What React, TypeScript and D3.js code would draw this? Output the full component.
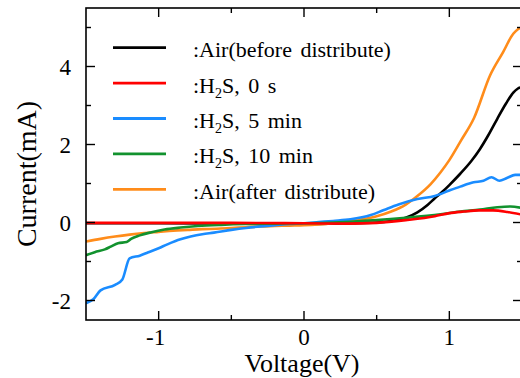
import React from "react";
import * as d3 from "d3";

// ---- data ----
const blackV = [-1.5, -1, -0.5, 0, 0.3, 0.5, 0.6, 0.7, 0.78, 0.85, 0.9, 0.95, 1.0, 1.075, 1.15, 1.21, 1.27, 1.33, 1.39, 1.44, 1.47, 1.5];
const blackI = [-0.02, -0.02, -0.03, -0.04, -0.02, 0.0, 0.04, 0.12, 0.26, 0.45, 0.62, 0.78, 0.96, 1.25, 1.57, 1.88, 2.25, 2.66, 3.05, 3.33, 3.43, 3.47];

const redV = [-1.5, -1.0, -0.5, 0, 0.3, 0.5, 0.7, 0.9, 1.0, 1.1, 1.2, 1.3, 1.4, 1.5];
const redI = [-0.01, -0.01, -0.01, -0.02, -0.03, -0.01, 0.06, 0.16, 0.24, 0.28, 0.31, 0.31, 0.27, 0.2];

const blueV = [-1.5, -1.45, -1.4, -1.3, -1.25, -1.2, -1.13, -1.075, -1.0, -0.94, -0.85, -0.78, -0.7, -0.62, -0.5, -0.4, -0.3, -0.2, -0.1, 0, 0.1, 0.2, 0.32, 0.46, 0.55, 0.65, 0.78, 0.9, 1.0, 1.075, 1.167, 1.235, 1.29, 1.345, 1.396, 1.453, 1.5];
const blueI = [-2.07, -1.97, -1.74, -1.6, -1.46, -0.92, -0.85, -0.77, -0.66, -0.56, -0.43, -0.36, -0.3, -0.26, -0.19, -0.14, -0.1, -0.07, -0.04, -0.02, 0.01, 0.04, 0.08, 0.19, 0.32, 0.46, 0.6, 0.68, 0.82, 0.92, 1.03, 1.07, 1.16, 1.07, 1.14, 1.22, 1.22];

const greenV = [-1.5, -1.44, -1.37, -1.33, -1.28, -1.22, -1.19, -1.13, -1.05, -0.96, -0.85, -0.73, -0.57, -0.4, -0.2, 0, 0.2, 0.32, 0.5, 0.7, 0.94, 1.075, 1.21, 1.33, 1.42, 1.5];
const greenI = [-0.84, -0.76, -0.69, -0.62, -0.53, -0.5, -0.42, -0.33, -0.25, -0.18, -0.13, -0.09, -0.06, -0.04, -0.03, -0.02, 0.0, 0.02, 0.06, 0.12, 0.21, 0.28, 0.33, 0.39, 0.41, 0.37];

const orangeV = [-1.5, -1.4, -1.3, -1.2, -1.1, -1.0, -0.9, -0.8, -0.7, -0.6, -0.5, -0.4, -0.3, -0.2, -0.1, 0, 0.1, 0.2, 0.3, 0.4, 0.5, 0.6, 0.7, 0.78, 0.87, 0.94, 1.0, 1.08, 1.17, 1.28, 1.37, 1.44, 1.47, 1.5];
const orangeI = [-0.49, -0.42, -0.36, -0.31, -0.27, -0.24, -0.21, -0.19, -0.17, -0.16, -0.14, -0.12, -0.1, -0.09, -0.08, -0.07, -0.05, -0.02, 0.02, 0.08, 0.16, 0.28, 0.46, 0.68, 0.98, 1.29, 1.6, 2.1, 2.68, 3.77, 4.37, 4.84, 4.95, 5.0];

const xMajorTicks = [-1, 0, 1];
const xMinorTicks = [-0.5, 0.5];
const yMajorTicks = [-2, 0, 2, 4];
const yMinorTicks = [-1, 1, 3, 5];

const COLORS = {
  black: "#000000",
  red: "#ff0000",
  blue: "#1a8cff",
  green: "#12922e",
  orange: "#ff8c1a",
};

const FONT = "'Liberation Serif', 'Times New Roman', Times, serif";
const txt = { fontFamily: FONT } as React.CSSProperties;

export default function App() {
  const left = 86, right = 522, top = 8, bottom = 320;
  const x = d3.scaleLinear().domain([-1.5, 1.5]).range([left, right]);
  const y = d3.scaleLinear().domain([-2.5, 5.5]).range([bottom, top]);
  const line = d3
    .line<[number, number]>()
    .x((d) => x(d[0]))
    .y((d) => y(d[1]))
    .curve(d3.curveMonotoneX);

  const zip = (a: number[], b: number[]) => a.map((v, i) => [v, b[i]] as [number, number]);

  const series = [
    { key: "black", pts: zip(blackV, blackI), color: COLORS.black },
    { key: "orange", pts: zip(orangeV, orangeI), color: COLORS.orange },
    { key: "blue", pts: zip(blueV, blueI), color: COLORS.blue },
    { key: "green", pts: zip(greenV, greenI), color: COLORS.green },
    { key: "red", pts: zip(redV, redI), color: COLORS.red },
  ];

  const sub = (s: string) => (
    <tspan dy={5} fontSize={14} style={txt}>{s}</tspan>
  );
  const legend: { color: string; label: React.ReactNode }[] = [
    { color: COLORS.black, label: <tspan>:Air(before distribute)</tspan> },
    { color: COLORS.red, label: <><tspan>:H</tspan>{sub("2")}<tspan dy={-5}>S, 0 s</tspan></> },
    { color: COLORS.blue, label: <><tspan>:H</tspan>{sub("2")}<tspan dy={-5}>S, 5 min</tspan></> },
    { color: COLORS.green, label: <><tspan>:H</tspan>{sub("2")}<tspan dy={-5}>S, 10 min</tspan></> },
    { color: COLORS.orange, label: <tspan>:Air(after distribute)</tspan> },
  ];

  const major = 9, minor = 5;

  return (
    <svg
      width={520}
      height={378}
      style={{ position: "absolute", left: 0, top: 0, background: "#fff", fontFamily: FONT }}
    >
      <defs>
        <clipPath id="plot">
          <rect x={left} y={top} width={right - left} height={bottom - top} />
        </clipPath>
      </defs>
      <g clipPath="url(#plot)" fill="none" strokeWidth={2.6} strokeLinejoin="round">
        {series.map((s) => (
          <path key={s.key} d={line(s.pts) || ""} stroke={s.color} />
        ))}
      </g>

      {/* frame */}
      <rect x={left} y={top} width={right - left} height={bottom - top} fill="none" stroke="#000" strokeWidth={1.6} />

      {/* ticks */}
      <g stroke="#000" strokeWidth={1.4}>
        {xMajorTicks.map((t) => (
          <g key={"xm" + t}>
            <line x1={x(t)} x2={x(t)} y1={bottom} y2={bottom - major} />
            <line x1={x(t)} x2={x(t)} y1={top} y2={top + major} />
          </g>
        ))}
        {xMinorTicks.map((t) => (
          <g key={"xn" + t}>
            <line x1={x(t)} x2={x(t)} y1={bottom} y2={bottom - minor} />
            <line x1={x(t)} x2={x(t)} y1={top} y2={top + minor} />
          </g>
        ))}
        {yMajorTicks.map((t) => (
          <g key={"ym" + t}>
            <line x1={left} x2={left + major} y1={y(t)} y2={y(t)} />
            <line x1={right} x2={right - major} y1={y(t)} y2={y(t)} />
          </g>
        ))}
        {yMinorTicks.map((t) => (
          <g key={"yn" + t}>
            <line x1={left} x2={left + minor} y1={y(t)} y2={y(t)} />
            <line x1={right} x2={right - minor} y1={y(t)} y2={y(t)} />
          </g>
        ))}
      </g>

      {/* tick labels */}
      {xMajorTicks.map((t) => (
        <text key={"xl" + t} x={x(t) - (t < 0 ? 3 : 0)} y={345} textAnchor="middle" fontSize={23} style={txt}>
          {t < 0 ? "-" + Math.abs(t) : String(t)}
        </text>
      ))}
      {yMajorTicks.map((t) => (
        <text key={"yl" + t} x={71} y={y(t) + 8} textAnchor="end" fontSize={23} style={txt}>
          {t < 0 ? "-" + Math.abs(t) : String(t)}
        </text>
      ))}

      {/* axis titles */}
      <text x={302} y={372} fontSize={26} textAnchor="middle" style={txt}>Voltage(V)</text>
      <text transform="translate(36,174) rotate(-90)" fontSize={28} textAnchor="middle" style={txt}>Current(mA)</text>

      {/* legend */}
      {legend.map((l, i) => {
        const cy = 47.7 + i * 35.4;
        return (
          <g key={"lg" + i}>
            <line x1={113} x2={166} y1={cy} y2={cy} stroke={l.color} strokeWidth={2.8} />
            <text x={193} y={cy + 9.5} fontSize={22} wordSpacing={3} fill="#000" style={txt}>{l.label}</text>
          </g>
        );
      })}
    </svg>
  );
}
